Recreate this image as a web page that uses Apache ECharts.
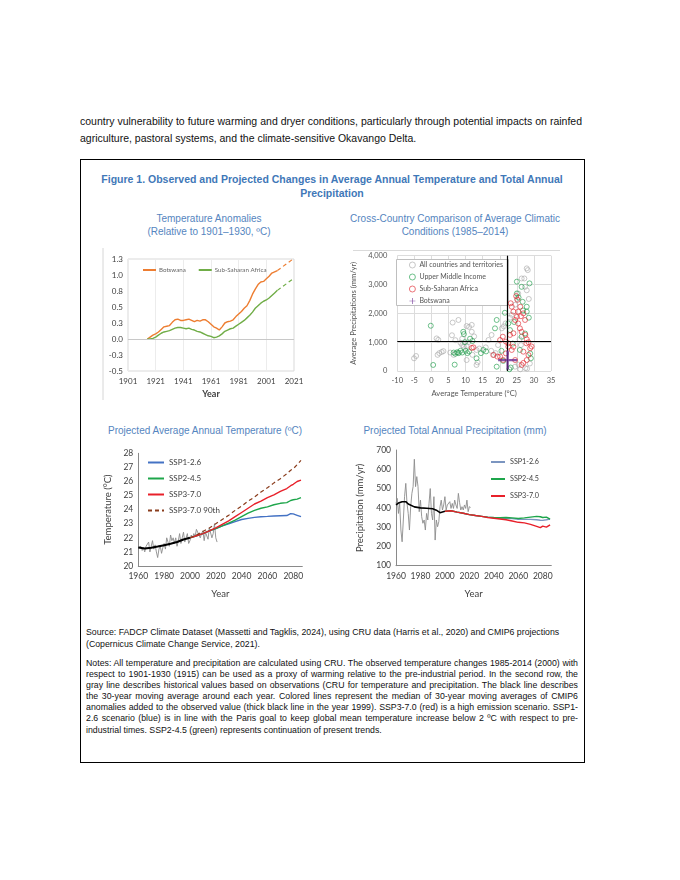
<!DOCTYPE html>
<html>
<head>
<meta charset="utf-8">
<script src="https://cdn.jsdelivr.net/npm/echarts@6.0.0/dist/echarts.min.js"></script>
<style>
  html, body { margin:0; padding:0; background:#fff; }
  body { width:680px; height:880px; position:relative; overflow:hidden; font-family:"Liberation Sans", Arial, Helvetica, sans-serif; color:#111; }
  .ln { position:absolute; white-space:nowrap; line-height:12px; height:12px; }
  .jl { white-space:normal; text-align:justify; text-align-last:justify; overflow:hidden; }
  .p  { font-size:9.6px; left:80px; width:502px; }
  .n  { font-size:8.1px; left:86px; width:492px; }
  .ttl { font-weight:bold; color:#3f78b8; font-size:10.5px; text-align:center; width:504px; left:80px; line-height:14px; height:14px; }
  .sub { color:#5585c0; font-size:10px; text-align:center; width:250px; line-height:13px; height:13px; }
  #box { position:absolute; left:80px; top:159px; width:503px; height:602px; border:1px solid #000; }
  .ch { position:absolute; }
  .meas { position:absolute; left:-2000px; top:0; white-space:nowrap; visibility:hidden; }
</style>
</head>
<body>
<div class="ln p jl" style="top:115px;">country vulnerability to future warming and dryer conditions, particularly through potential impacts on rainfed</div>
<div class="ln p" style="top:132px;">agriculture, pastoral systems, and the climate-sensitive Okavango Delta.</div>

<div id="box"></div>

<div class="ln ttl" style="top:172px;">Figure 1. Observed and Projected Changes in Average Annual Temperature and Total Annual</div>
<div class="ln ttl" style="top:186px;">Precipitation</div>

<div class="ln sub" style="left:84px; top:212px;">Temperature Anomalies</div>
<div class="ln sub" style="left:84px; top:225px;">(Relative to 1901–1930, ºC)</div>
<div class="ln sub" style="left:330px; top:212px;">Cross-Country Comparison of Average Climatic</div>
<div class="ln sub" style="left:330px; top:225px;">Conditions (1985–2014)</div>
<div class="ln sub" style="left:80px; top:424px;">Projected Average Annual Temperature (ºC)</div>
<div class="ln sub" style="left:330px; top:424px;">Projected Total Annual Precipitation (mm)</div>

<div class="ln n" style="top:626px;">Source: FADCP Climate Dataset (Massetti and Tagklis, 2024), using CRU data (Harris et al., 2020) and CMIP6 projections</div>
<div class="ln n" style="top:638px;">(Copernicus Climate Change Service, 2021).</div>
<div class="ln n jl" style="top:657px;">Notes: All temperature and precipitation are calculated using CRU. The observed temperature changes 1985-2014 (2000) with</div>
<div class="ln n jl" style="top:668px;">respect to 1901-1930 (1915) can be used as a proxy of warming relative to the pre-industrial period. In the second row, the</div>
<div class="ln n jl" style="top:679px;">gray line describes historical values based on observations (CRU for temperature and precipitation. The black line describes</div>
<div class="ln n jl" style="top:690px;">the 30-year moving average around each year. Colored lines represent the median of 30-year moving averages of CMIP6</div>
<div class="ln n jl" style="top:701px;">anomalies added to the observed value (thick black line in the year 1999). SSP3-7.0 (red) is a high emission scenario. SSP1-</div>
<div class="ln n jl" style="top:712px;">2.6 scenario (blue) is in line with the Paris goal to keep global mean temperature increase below 2 ºC with respect to pre-</div>
<div class="ln n" style="top:724px;">industrial times. SSP2-4.5 (green) represents continuation of present trends.</div>

<div id="c1" class="ch" style="left:100px; top:240px; width:210px; height:170px;"></div>
<div id="c2" class="ch" style="left:340px; top:240px; width:235px; height:170px;"></div>
<div id="c3" class="ch" style="left:100px; top:440px; width:215px; height:160px;"></div>
<div id="c4" class="ch" style="left:350px; top:440px; width:220px; height:160px;"></div>

<script>
// ---------------- DATA ----------------
// Chart 1: temperature anomalies (30-yr moving average, relative to 1901-1930)
const anomYears = [1915,1917,1919,1921,1923,1925,1927,1929,1931,1933,1935,1937,1939,1941,1943,1945,1947,1949,1951,1953,1955,1957,1959,1961,1963,1965,1967,1969,1971,1973,1975,1977,1979,1981,1983,1985,1987,1989,1991,1993,1995,1997,1999,2001,2003,2005,2007,2009];
const botswanaAnom = [0.00,0.03,0.06,0.08,0.11,0.15,0.19,0.20,0.21,0.26,0.30,0.31,0.29,0.29,0.30,0.31,0.29,0.27,0.29,0.28,0.30,0.30,0.27,0.23,0.19,0.17,0.14,0.19,0.25,0.27,0.28,0.30,0.35,0.39,0.43,0.48,0.52,0.60,0.70,0.78,0.85,0.89,0.90,0.94,0.98,1.03,1.05,1.07];
const ssaAnom      = [0.00,0.00,0.01,0.03,0.06,0.09,0.11,0.12,0.13,0.15,0.17,0.18,0.18,0.17,0.16,0.17,0.15,0.14,0.12,0.11,0.09,0.07,0.05,0.04,0.02,0.03,0.05,0.08,0.12,0.14,0.16,0.17,0.20,0.23,0.26,0.29,0.33,0.37,0.42,0.48,0.52,0.56,0.59,0.61,0.64,0.68,0.72,0.76];
const trendYears = [2009, 2021];
const botswanaTrend = [1.07, 1.26];
const ssaTrend = [0.76, 0.95];

// Chart 2: cross-country scatter [average temperature °C, average precipitation mm/yr]
const allCountries = [[-5.1,440],[-4.5,520],[1.5,1130],[2.0,1080],[1.8,560],[2.3,620],[3.0,660],[3.5,690],[6.2,1680],[7.9,1770],[6.0,1240],[7.0,1070],[5.5,640],[6.5,560],[8.5,980],[9.0,900],[9.5,840],[10.3,870],[10.3,1560],[11.8,1600],[11.0,1530],[11.8,1360],[12.5,1200],[13.2,730],[14.0,780],[15.9,820],[16.7,1075],[17.6,1250],[10.3,380],[13.2,210],[13.5,300],[17.5,700],[18.3,560],[18.8,620],[19.5,900],[20.6,1480],[21.2,1550],[21.7,1650],[23.0,1850],[23.5,1950],[24.5,2300],[25.0,2500],[25.4,2690],[26.4,3210],[27.2,3210],[27.4,2920],[27.9,3560],[28.2,3500],[28.5,2500],[27.9,2800],[24.5,150],[27.5,100],[28.0,80],[26.0,60],[25.5,220],[28.8,260],[25.8,1100],[26.2,900],[9.0,1120],[10.8,1000],[7.8,640],[12.0,560]];
const upperMiddle = [[-0.2,1570],[0.5,210],[6.8,220],[6.5,640],[7.0,600],[7.5,650],[8.0,620],[8.5,700],[9.0,640],[9.3,1360],[9.5,1280],[9.8,1000],[10.0,700],[10.5,620],[11.0,680],[11.3,1120],[12.0,1040],[13.2,440],[14.5,620],[15.2,730],[16.0,680],[18.6,1480],[19.1,1770],[19.1,150],[21.5,2020],[22.5,1650],[23.0,1420],[22.8,60],[23.2,120],[25.0,3100],[26.4,2920],[28.7,3040],[25.0,2690],[25.5,2550],[26.7,2400],[27.9,2230],[26.8,2100],[27.9,2060],[28.5,1850],[29.1,440],[28.9,610],[26.4,1190],[27.4,1300],[25.9,730],[24.2,1700],[20.5,700],[21.0,350],[23.8,950]];
const subSaharan = [[12.3,820],[11.8,800],[18.1,555],[19.3,500],[20.1,1075],[20.9,1190],[21.8,1020],[22.5,960],[23.2,2350],[23.5,2230],[24.0,2060],[24.5,1770],[25.0,1880],[25.4,1650],[25.9,1480],[26.4,1360],[27.5,1250],[27.9,1100],[28.4,1000],[27.8,960],[28.9,790],[29.3,850],[26.9,670],[24.0,840],[23.5,730],[21.0,380],[20.1,500],[24.5,380],[26.4,210],[26.9,280],[27.9,380],[28.4,555],[21.8,610],[22.5,845],[24.0,1310],[23.0,1250],[25.2,2470],[26.0,2230],[26.9,2000],[27.4,1770],[25.4,2060],[24.8,2600],[26.2,1900]];
const botswanaPoint = [[22.3,380]];
const refTemp = 22.3;
const refPrecip = 1040;

// Chart 3: projected temperature (°C)
const obsStartYear = 1960;
const tempObs = [21.3,21.2,21.4,21.1,21.3,21.0,21.4,21.3,21.7,21.0, 21.4,21.8,21.2,21.5,21.0,20.6,21.2,21.4,20.9,21.3, 21.6,21.2,22.0,21.7,21.4,22.2,21.8,22.0,21.6,22.0, 21.4,21.8,22.3,21.6,22.0,22.4,21.7,22.0,22.3,21.6, 21.8,22.2,22.0,22.3,22.1,22.6,22.7,22.2,22.0,22.3, 22.5,21.8,22.4,22.3,21.9,22.7,22.8,22.0,22.3,23.0,22.0,21.7];
const tempAvgYears = [1960,1965,1970,1975,1980,1985,1990,1995,2000];
const tempAvg = [21.32,21.25,21.3,21.38,21.48,21.58,21.7,21.88,22.0];
const projYears = [2000,2005,2010,2015,2020,2025,2030,2035,2040,2045,2050,2055,2060,2065,2070,2075,2078,2080,2083,2086];
const tSsp126 = [22.0,22.15,22.3,22.5,22.65,22.85,23.0,23.15,23.3,23.38,23.45,23.5,23.52,23.55,23.57,23.58,23.72,23.7,23.6,23.5];
const tSsp245 = [22.0,22.15,22.3,22.5,22.65,22.85,23.05,23.25,23.5,23.75,23.95,24.1,24.2,24.35,24.45,24.5,24.65,24.7,24.75,24.85];
const tSsp370 = [22.0,22.15,22.3,22.5,22.7,22.95,23.2,23.5,23.8,24.1,24.4,24.6,24.85,25.05,25.3,25.5,25.7,25.8,26.0,26.1];
const tSsp370p90 = [22.0,22.2,22.45,22.7,23.0,23.3,23.6,23.95,24.25,24.6,24.9,25.25,25.55,25.9,26.2,26.55,26.8,26.9,27.2,27.5];

// Chart 4: projected precipitation (mm/yr)
const precObs = [423,449,371,423,285,224,337,458,527,423, 371,285,406,475,510,652,510,562,510,380, 440,354,320,337,285,371,337,423,500,371, 337,458,233,337,302,328,406,440,389,415, 458,389,415,406,432,397,423,397,440,415, 397,475,427,389,406,389,415,397,440,380,406,402];
const precAvgYears = [1960,1962,1965,1968,1970,1975,1980,1985,1990,1993,1996,2000];
const precAvg = [415,425,432,432,420,405,400,398,395,388,375,382];
const pSsp126 = [382,385,378,372,365,360,356,352,349,347,346,344,341,340,340,338,336,335,338,342];
const pSsp245 = [382,385,378,372,365,360,356,352,350,349,350,348,345,348,352,356,354,350,352,342];
const pSsp370 = [382,385,378,372,365,360,356,350,346,342,338,332,325,322,314,304,297,305,300,312];

// ---------------- TEXT FITTING ----------------
function naturalWidth(el, fs) {
  const m = document.createElement('span');
  m.className = 'meas';
  m.style.fontFamily = getComputedStyle(el).fontFamily;
  m.style.fontWeight = getComputedStyle(el).fontWeight;
  m.style.fontSize = fs + 'px';
  m.textContent = el.textContent;
  document.body.appendChild(m);
  const w = m.getBoundingClientRect().width;
  m.remove();
  return w;
}
function fitBlock(sel, target) {
  const els = Array.from(document.querySelectorAll(sel));
  let maxW = 0;
  els.forEach(el => { maxW = Math.max(maxW, naturalWidth(el, 10)); });
  const fs = Math.floor(10 * (target - 1) / maxW * 100) / 100;
  els.forEach(el => { el.style.fontSize = fs + 'px'; });
  return fs;
}
fitBlock('.p', 502);
fitBlock('.n', 491);

// ---------------- HELPERS ----------------
const zip = (xs, ys) => xs.map((x, i) => [x, ys[i]]);
const FONT = 'Lato, "Open Sans", sans-serif';
const LBL = '#404040';
const GRIDX = { outerBoundsMode: 'none', containLabel: false };
const yearFmt = v => String(Math.round(v));
const hideLegendSymbol = { color: 'transparent', borderColor: 'transparent', borderWidth: 0, opacity: 0 };

// ---------------- CHART 1 ----------------
const c1 = echarts.init(document.getElementById('c1'));
c1.setOption({
  animation: false,
  textStyle: { fontFamily: FONT },
  grid: Object.assign({ left: 28, top: 19, width: 166, height: 112, show: true, borderColor: '#d9d9d9', borderWidth: 1, backgroundColor: 'transparent' }, GRIDX),
  xAxis: {
    type: 'value', min: 1901, max: 2021, interval: 20,
    axisLine: { show: false }, axisTick: { show: false },
    splitLine: { show: true, lineStyle: { color: '#ececec', width: 1 } },
    axisLabel: { fontSize: 8, color: LBL, fontFamily: FONT, margin: 6, formatter: yearFmt },
    name: 'Year', nameLocation: 'middle', nameGap: 19,
    nameTextStyle: { fontSize: 9, fontWeight: 'bold', color: LBL, fontFamily: FONT }
  },
  yAxis: {
    type: 'value', min: -0.5, max: 1.25, interval: 0.25,
    axisLine: { show: false }, axisTick: { show: false }, splitLine: { show: false },
    axisLabel: { fontSize: 8, color: LBL, fontFamily: FONT, margin: 5, formatter: v => v.toFixed(1) }
  },
  legend: {
    left: 42, top: 27, itemWidth: 13, itemHeight: 6, itemGap: 12, padding: 0,
    data: ['Botswana', 'Sub-Saharan Africa'],
    itemStyle: hideLegendSymbol,
    textStyle: { fontSize: 6.2, color: '#666', fontFamily: FONT, padding: [0, 0, 0, -2] }
  },
  graphic: [{ type: 'line', shape: { x1: 3, y1: 8, x2: 3, y2: 160 }, style: { stroke: '#d6d6d6', lineWidth: 1 } }],
  series: [
    { name: 'Botswana', type: 'line', data: zip(anomYears, botswanaAnom), symbol: 'none', lineStyle: { color: '#ed7d31', width: 1.4 }, itemStyle: { color: '#ed7d31' },
      markLine: { silent: true, symbol: ['none', 'none'], label: { show: false }, lineStyle: { color: '#c8c8c8', width: 1, type: 'solid' }, data: [{ yAxis: 0 }] }, z: 3 },
    { name: 'Sub-Saharan Africa', type: 'line', data: zip(anomYears, ssaAnom), symbol: 'none', lineStyle: { color: '#70ad47', width: 1.4 }, itemStyle: { color: '#70ad47' }, z: 3 },
    { name: 'Botswana trend', type: 'line', data: zip(trendYears, botswanaTrend), symbol: 'none', lineStyle: { color: '#ed7d31', width: 1.2, type: [4, 3] } },
    { name: 'SSA trend', type: 'line', data: zip(trendYears, ssaTrend), symbol: 'none', lineStyle: { color: '#70ad47', width: 1.2, type: [4, 3] } }
  ]
});

// ---------------- CHART 2 ----------------
const plusPath = 'path://M8.8,0h2.4v8.8h8.8v2.4h-8.8v8.8h-2.4v-8.8h-8.8v-2.4h8.8z';
const ring = c => ({ color: 'transparent', borderColor: c, borderWidth: 0.8 });
const c2 = echarts.init(document.getElementById('c2'));
c2.setOption({
  animation: false,
  textStyle: { fontFamily: FONT },
  grid: Object.assign({ left: 57.3, top: 15.7, width: 153.7, height: 115.3 }, GRIDX),
  xAxis: {
    type: 'value', min: -10, max: 35, interval: 5,
    axisLine: { show: false }, axisTick: { show: false },
    splitLine: { show: true, lineStyle: { color: '#dcdcdc', width: 1 } },
    axisLabel: { fontSize: 7.5, color: '#555', fontFamily: FONT, margin: 6 },
    name: 'Average Temperature (°C)', nameLocation: 'middle', nameGap: 17,
    nameTextStyle: { fontSize: 7.6, color: '#555', fontFamily: FONT }
  },
  yAxis: {
    type: 'value', min: 0, max: 4000, interval: 1000,
    axisLine: { show: false }, axisTick: { show: false },
    splitLine: { show: true, lineStyle: { color: '#dcdcdc', width: 1 } },
    axisLabel: { fontSize: 7.5, color: '#555', fontFamily: FONT, margin: 10, formatter: v => v.toLocaleString('en-US') },
    name: 'Average Precipitations (mm/yr)', nameLocation: 'middle', nameGap: 37,
    nameTextStyle: { fontSize: 7.6, color: '#555', fontFamily: FONT }
  },
  graphic: [
    { type: 'line', shape: { x1: 13, y1: 10.5, x2: 220, y2: 10.5 }, style: { stroke: '#dadada', lineWidth: 1 }, z: 0 },
    { type: 'rect', shape: { x: 56.5, y: 19.5, width: 112, height: 46 }, style: { fill: '#fff', stroke: '#bfbfbf', lineWidth: 1 }, z: 1 }
  ],
  legend: {
    orient: 'vertical', left: 69, top: 21, itemWidth: 6, itemHeight: 6, itemGap: 4, padding: 0, z: 5,
    data: ['All countries and territories', 'Upper Middle Income', 'Sub-Saharan Africa', 'Botswana'],
    itemStyle: { borderWidth: 0.8 },
    textStyle: { fontSize: 7, lineHeight: 8, color: '#555', fontFamily: FONT, padding: [0, 0, 0, -1] }
  },
  series: [
    { name: 'All countries and territories', type: 'scatter', data: allCountries, symbol: 'circle', symbolSize: 5, itemStyle: ring('#a9a9a9'), z: 2 },
    { name: 'Upper Middle Income', type: 'scatter', data: upperMiddle, symbol: 'circle', symbolSize: 5, itemStyle: ring('#1e9e4a'), z: 3 },
    { name: 'Sub-Saharan Africa', type: 'scatter', data: subSaharan, symbol: 'circle', symbolSize: 5, itemStyle: ring('#e0242c'), z: 4,
      markLine: { silent: true, symbol: ['none', 'none'], label: { show: false }, lineStyle: { color: '#000', width: 1.2, type: 'solid' }, data: [{ xAxis: refTemp }, { yAxis: refPrecip }] } },
    { name: 'Botswana', type: 'scatter', data: botswanaPoint, symbol: plusPath, symbolSize: 19, itemStyle: { color: '#6a2c91' }, z: 6 }
  ]
});

// ---------------- CHART 3 ----------------
const axisStyle = { lineStyle: { color: '#8a8a8a', width: 1 } };
const c3 = echarts.init(document.getElementById('c3'));
c3.setOption({
  animation: false,
  textStyle: { fontFamily: FONT },
  grid: Object.assign({ left: 38.3, top: 13.3, width: 164, height: 112.7 }, GRIDX),
  xAxis: {
    type: 'value', min: 1960, max: 2087, interval: 20,
    axisLine: axisStyle, axisTick: { show: false }, splitLine: { show: false },
    axisLabel: { fontSize: 8.5, color: LBL, fontFamily: FONT, margin: 6, showMaxLabel: false, formatter: yearFmt },
    name: 'Year', nameLocation: 'middle', nameGap: 23,
    nameTextStyle: { fontSize: 9.5, color: LBL, fontFamily: FONT }
  },
  yAxis: {
    type: 'value', min: 20, max: 28, interval: 1,
    axisLine: Object.assign({ show: true }, axisStyle), axisTick: { show: false }, splitLine: { show: false },
    axisLabel: { fontSize: 8.5, color: LBL, fontFamily: FONT, margin: 5 },
    name: 'Temperature (°C)', nameLocation: 'middle', nameGap: 20,
    nameTextStyle: { fontSize: 9.5, color: LBL, fontFamily: FONT }
  },
  legend: {
    orient: 'vertical', left: 47, top: 18, itemWidth: 16, itemHeight: 8, itemGap: 7, padding: 0,
    data: ['SSP1-2.6', 'SSP2-4.5', 'SSP3-7.0', 'SSP3-7.0 90th'],
    itemStyle: hideLegendSymbol,
    textStyle: { fontSize: 8, lineHeight: 9, color: LBL, fontFamily: FONT }
  },
  series: [
    { name: 'Observed', type: 'line', data: tempObs.map((v, i) => [obsStartYear + i, v]), symbol: 'none', lineStyle: { color: '#8c8c8c', width: 0.9 }, z: 1 },
    { name: '30-yr average', type: 'line', data: zip(tempAvgYears, tempAvg), symbol: 'none', lineStyle: { color: '#000', width: 2 }, z: 5 },
    { name: 'SSP1-2.6', type: 'line', data: zip(projYears, tSsp126), symbol: 'none', lineStyle: { color: '#4472c4', width: 1.4 }, itemStyle: { color: '#4472c4' }, z: 2 },
    { name: 'SSP2-4.5', type: 'line', data: zip(projYears, tSsp245), symbol: 'none', lineStyle: { color: '#1ea64b', width: 1.4 }, itemStyle: { color: '#1ea64b' }, z: 3 },
    { name: 'SSP3-7.0', type: 'line', data: zip(projYears, tSsp370), symbol: 'none', lineStyle: { color: '#e8202a', width: 1.4 }, itemStyle: { color: '#e8202a' }, z: 4 },
    { name: 'SSP3-7.0 90th', type: 'line', data: zip(projYears, tSsp370p90), symbol: 'none', lineStyle: { color: '#8a3c1c', width: 1.2, type: [4, 3] }, itemStyle: { color: '#8a3c1c' }, z: 4 }
  ]
});

// ---------------- CHART 4 ----------------
const c4 = echarts.init(document.getElementById('c4'));
c4.setOption({
  animation: false,
  textStyle: { fontFamily: FONT },
  grid: Object.assign({ left: 46, top: 10, width: 155.3, height: 115.7 }, GRIDX),
  xAxis: {
    type: 'value', min: 1960, max: 2087, interval: 20,
    axisLine: axisStyle, axisTick: { show: false }, splitLine: { show: false },
    axisLabel: { fontSize: 8.5, color: LBL, fontFamily: FONT, margin: 6, showMaxLabel: false, formatter: yearFmt },
    name: 'Year', nameLocation: 'middle', nameGap: 23,
    nameTextStyle: { fontSize: 9.5, color: LBL, fontFamily: FONT }
  },
  yAxis: {
    type: 'value', min: 100, max: 700, interval: 100,
    axisLine: Object.assign({ show: true }, axisStyle), axisTick: { show: false }, splitLine: { show: false },
    axisLabel: { fontSize: 8.5, color: LBL, fontFamily: FONT, margin: 5 },
    name: 'Precipitation (mm/yr)', nameLocation: 'middle', nameGap: 24,
    nameTextStyle: { fontSize: 9.5, color: LBL, fontFamily: FONT }
  },
  legend: {
    orient: 'vertical', left: 140, top: 18, itemWidth: 14, itemHeight: 8, itemGap: 9, padding: 0,
    data: ['SSP1-2.6', 'SSP2-4.5', 'SSP3-7.0'],
    itemStyle: hideLegendSymbol,
    textStyle: { fontSize: 7.2, lineHeight: 8, color: LBL, fontFamily: FONT }
  },
  series: [
    { name: 'Observed', type: 'line', data: precObs.map((v, i) => [obsStartYear + i, v]), symbol: 'none', lineStyle: { color: '#8c8c8c', width: 0.9 }, z: 1 },
    { name: '30-yr average', type: 'line', data: zip(precAvgYears, precAvg), symbol: 'none', lineStyle: { color: '#000', width: 1.6 }, z: 5 },
    { name: 'SSP1-2.6', type: 'line', data: zip(projYears, pSsp126), symbol: 'none', lineStyle: { color: '#7b95c0', width: 1.4 }, itemStyle: { color: '#7b95c0' }, z: 2 },
    { name: 'SSP2-4.5', type: 'line', data: zip(projYears, pSsp245), symbol: 'none', lineStyle: { color: '#1ea64b', width: 1.4 }, itemStyle: { color: '#1ea64b' }, z: 3 },
    { name: 'SSP3-7.0', type: 'line', data: zip(projYears, pSsp370), symbol: 'none', lineStyle: { color: '#e8202a', width: 1.4 }, itemStyle: { color: '#e8202a' }, z: 4 }
  ]
});
</script>
</body>
</html>
